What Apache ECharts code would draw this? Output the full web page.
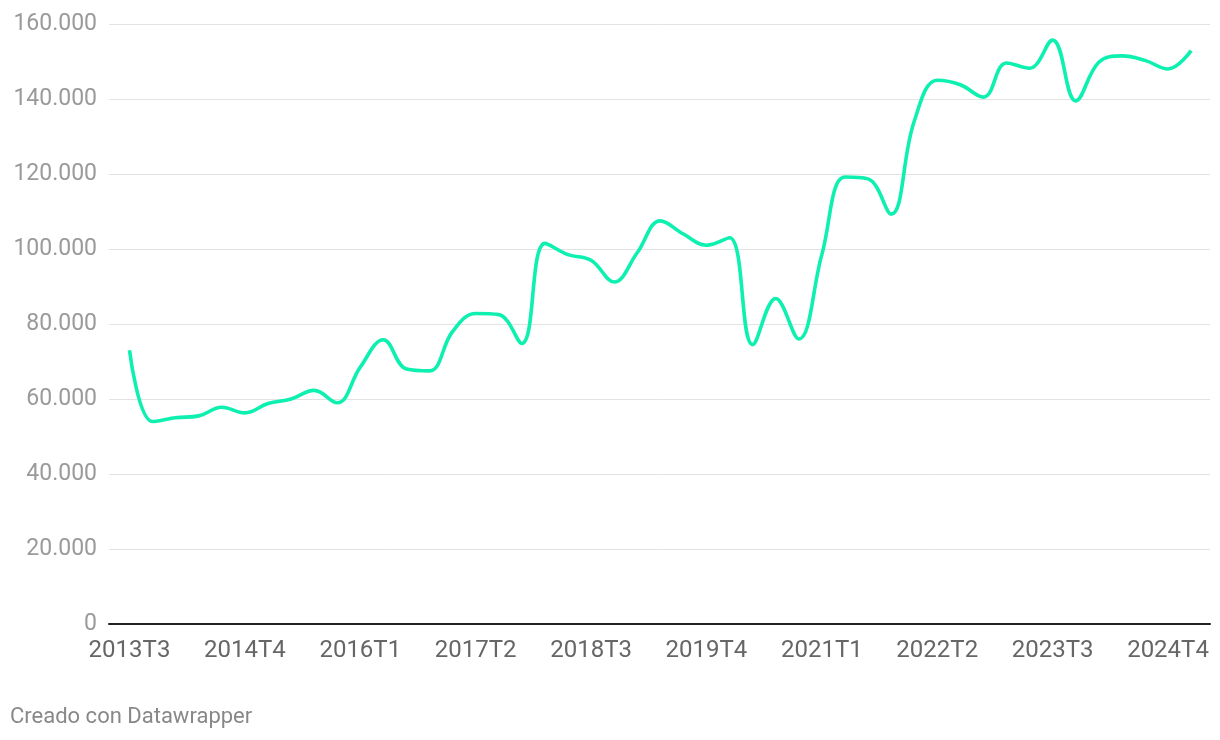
<!DOCTYPE html>
<html>
<head>
<meta charset="utf-8">
<script src="https://cdn.jsdelivr.net/npm/echarts@6/dist/echarts.min.js"></script>
<style>
html,body{margin:0;padding:0;background:#fff;}
#chart{width:1220px;height:740px;}
</style>
</head>
<body>
<div id="chart"></div>
<script>
const quarters = [
  "2013T3","2013T4",
  "2014T1","2014T2","2014T3","2014T4",
  "2015T1","2015T2","2015T3","2015T4",
  "2016T1","2016T2","2016T3","2016T4",
  "2017T1","2017T2","2017T3","2017T4",
  "2018T1","2018T2","2018T3","2018T4",
  "2019T1","2019T2","2019T3","2019T4",
  "2020T1","2020T2","2020T3","2020T4",
  "2021T1","2021T2","2021T3","2021T4",
  "2022T1","2022T2","2022T3","2022T4",
  "2023T1","2023T2","2023T3","2023T4",
  "2024T1","2024T2","2024T3","2024T4",
  "2025T1"
];
const values = [
  73000, 54000,
  55000, 55500, 57800, 56300,
  58800, 60000, 62300, 59000,
  68500, 75800, 68000, 67500,
  78000, 82800, 82500, 74800,
  101500, 98500, 97000, 91200,
  99000, 107500, 104000, 101000,
  103000, 74500, 86800, 76000,
  98500, 119200, 118700, 109300,
  134000, 145000, 143800, 140500,
  149600, 148200, 155700, 139500,
  149800, 151500, 150300, 148000,
  152900
];
const yTicks = [0, 20000, 40000, 60000, 80000, 100000, 120000, 140000, 160000];
const footerText = "Creado con Datawrapper";

const fmt = v => v === 0 ? "0" : String(v).replace(/\B(?=(\d{3})+(?!\d))/g, ".");
const FONT = "Roboto";

const chart = echarts.init(document.getElementById('chart'), null, {renderer: 'canvas'});
chart.setOption({
  animation: false,
  backgroundColor: '#ffffff',
  textStyle: {fontFamily: FONT},
  grid: [
    {left: 109, right: 10, top: 24, bottom: 116},
    {left: 129.5, right: 28.9, top: 24, bottom: 116}
  ],
  xAxis: [
    {
      gridIndex: 0, type: 'value', min: 0, max: 1,
      axisLine: {show: true, lineStyle: {color: '#222', width: 2}},
      axisTick: {show: false}, axisLabel: {show: false}, splitLine: {show: false}
    },
    {
      gridIndex: 1, type: 'category', data: quarters, boundaryGap: false,
      axisLine: {show: false}, axisTick: {show: false}, splitLine: {show: false},
      axisLabel: {interval: 4, color: '#666', fontSize: 24, margin: 15, fontFamily: FONT}
    }
  ],
  yAxis: [
    {
      gridIndex: 0, type: 'value', min: yTicks[0], max: yTicks[yTicks.length - 1],
      interval: yTicks[1] - yTicks[0],
      axisLine: {show: false}, axisTick: {show: false},
      axisLabel: {color: '#9a9a9a', fontSize: 23, margin: 12, fontFamily: FONT, formatter: fmt},
      splitLine: {show: true, lineStyle: {color: '#e2e2e2', width: 1}}
    },
    {
      gridIndex: 1, type: 'value', min: yTicks[0], max: yTicks[yTicks.length - 1],
      show: false
    }
  ],
  series: [{
    type: 'line',
    xAxisIndex: 1, yAxisIndex: 1,
    data: values,
    smooth: 0.4,
    showSymbol: false,
    symbol: 'none',
    lineStyle: {color: '#0df0b0', width: 3.6},
    z: 5
  }],
  graphic: [{
    type: 'text', left: 10, top: 706,
    style: {text: footerText, fill: '#888', font: '22px ' + FONT}
  }]
});
</script>
</body>
</html>
